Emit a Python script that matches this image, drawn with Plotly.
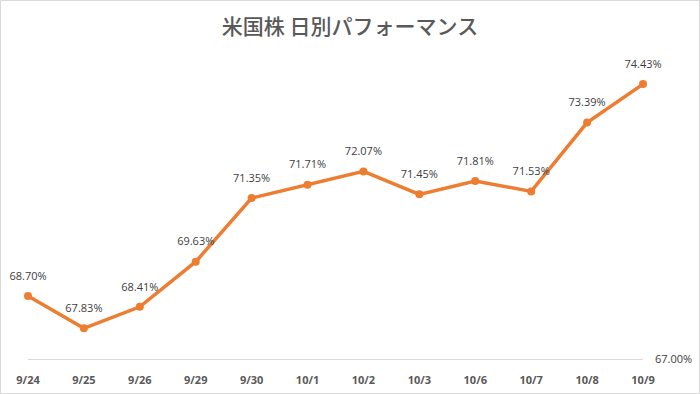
import plotly.graph_objects as go

dates = ["9/24", "9/25", "9/26", "9/29", "9/30", "10/1", "10/2", "10/3", "10/6", "10/7", "10/8", "10/9"]
values = [68.70, 67.83, 68.41, 69.63, 71.35, 71.71, 72.07, 71.45, 71.81, 71.53, 73.39, 74.43]
title_text = "米国株 日別パフォーマンス"

labels = [f"{v:.2f}%" for v in values]
xs = list(range(len(dates)))

fig = go.Figure()
fig.add_trace(go.Scatter(
    x=xs, y=values,
    mode="lines+markers",
    line=dict(color="#ED7D31", width=3.5),
    marker=dict(color="#ED7D31", size=8),
    cliponaxis=False, showlegend=False, hoverinfo="skip",
))
# data labels (transparent larger marker to set label offset)
fig.add_trace(go.Scatter(
    x=xs, y=values,
    mode="markers+text",
    marker=dict(color="rgba(0,0,0,0)", size=20),
    text=labels, textposition="top center",
    textfont=dict(family="Open Sans, Noto Sans, sans-serif", size=11, color="#404040"),
    cliponaxis=False, showlegend=False, hoverinfo="skip",
))

W, H = 700, 394
ml, mr, mt, mb = 28, 57, 63, 35
pw, ph = W - ml - mr, H - mt - mb

fig.update_layout(
    width=W, height=H,
    margin=dict(l=ml, r=mr, t=mt, b=mb, autoexpand=False),
    paper_bgcolor="white", plot_bgcolor="white",
    title=dict(text=title_text, x=0.5, xanchor="center", y=1 - 27 / H, yanchor="middle",
               font=dict(family="Noto Sans CJK JP", size=21, color="#595959", weight=500)),
    xaxis=dict(range=[0, len(dates) - 1], tickvals=xs, ticktext=dates,
               showgrid=False, zeroline=False, showline=True, linecolor="#D9D9D9", linewidth=1,
               ticks="", ticklabelstandoff=11, automargin=False,
               tickfont=dict(family="Open Sans, Noto Sans, sans-serif", size=11, color="#595959", weight="bold")),
    yaxis=dict(range=[67, 75], side="right", tickvals=[67], ticktext=["67.00%"], automargin=False,
               showgrid=False, zeroline=False, showline=False, ticks="", ticklabelstandoff=11,
               tickfont=dict(family="Open Sans, Noto Sans, sans-serif", size=11, color="#404040")),
    shapes=[dict(type="rect", xref="paper", yref="paper",
                 x0=(-ml + 0.5) / pw, x1=1 + (mr - 0.5) / pw,
                 y0=(-mb + 0.5) / ph, y1=1 + (mt - 0.5) / ph,
                 line=dict(color="#D9D9D9", width=1))],
)

fig.write_html("out.html", config={"displayModeBar": False},
               post_script="document.body.style.margin='0';document.body.style.overflow='hidden';")
